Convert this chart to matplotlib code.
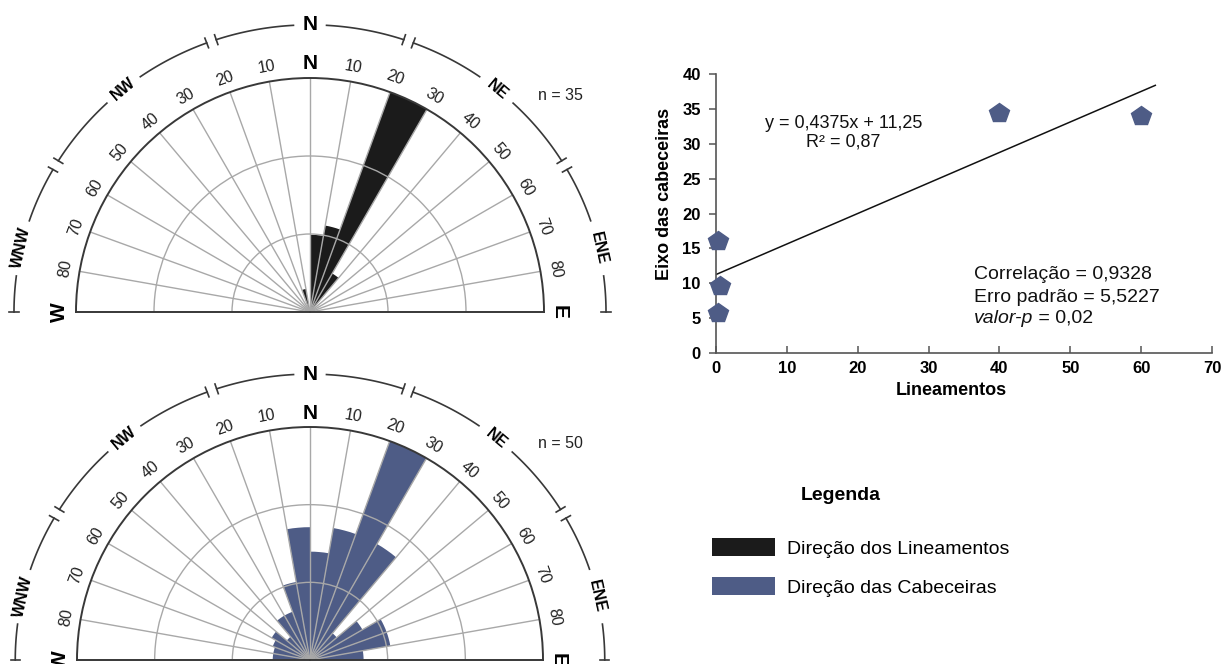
import numpy as np
import matplotlib
matplotlib.use("Agg")
import matplotlib.pyplot as plt
from matplotlib.patches import Patch

plt.rcParams['font.family'] = ['Liberation Sans', 'DejaVu Sans']

# ---------------------------------------------------------------------------
# Rose diagrams: relative frequency per 10-degree sector
# (sector centre azimuth in degrees, negative = west of north)
sector_centres = [-85, -75, -65, -55, -45, -35, -25, -15, -5,
                  5, 15, 25, 35, 45, 55, 65, 75, 85]
lineamentos_freq = [0, 0, 0, 0, 0, 0, 0, 0.10, 0,
                    0.33, 0.375, 1.0, 0.19, 0, 0, 0, 0, 0]
cabeceiras_freq = [0.16, 0.16, 0.17, 0.19, 0.13, 0.22, 0.22, 0.34, 0.57,
                   0.465, 0.575, 1.0, 0.575, 0.15, 0.26, 0.35, 0.35, 0.23]
n_lineamentos = 35
n_cabeceiras = 50

degree_ticks = [10, 20, 30, 40, 50, 60, 70, 80]
compass_labels = ['WNW', 'NW', 'N', 'NE', 'ENE']
compass_angles = [-77.5, -40, 0, 40, 77.5]
compass_breaks = [-60, -20, 20, 60]

# Scatter: lineaments vs. headwater axes
lineamentos = [0.3, 0.5, 0.3, 40, 60]
eixo_cabeceiras = [16.1, 9.6, 5.7, 34.4, 34.0]
slope, intercept = 0.4375, 11.25
r2 = 0.87
correlacao = 0.9328
erro_padrao = 5.5227
valor_p = 0.02
x_ticks = [0, 10, 20, 30, 40, 50, 60, 70]
y_ticks = [0, 5, 10, 15, 20, 25, 30, 35, 40]

legend_labels = ['Direção dos Lineamentos', 'Direção das Cabeceiras']

BLACK = '#1b1b1b'
BLUE = '#4e5c86'
GRID = '#a8a8a8'
DARK = '#383838'

W, H = 1222, 664
fig = plt.figure(figsize=(W / 100, H / 100), dpi=100)


def dec(v, nd):
    return f"{v:.{nd}f}".replace('.', ',')


# the outer compass band is slightly wider than it is tall
RING_H, RING_V = 1.265, 1.227


def ring_r(theta_deg, dr=0.0):
    t = np.deg2rad(theta_deg)
    return 1.0 / np.sqrt((np.sin(t) / (RING_H + dr)) ** 2 +
                         (np.cos(t) / (RING_V + dr)) ** 2)


def rose(cx, cy, rad, freqs, color, n):
    # a half-circle polar axes is laid out in a square box with the
    # semicircle centred vertically: baseline sits a quarter up the box
    rect = [(cx - rad) / W, (H - (cy + rad / 2)) / H, 2 * rad / W, 2 * rad / H]
    ax = fig.add_axes(rect, projection='polar')
    ax.set_theta_zero_location('N')
    ax.set_theta_direction(-1)
    ax.set_thetamin(-90)
    ax.set_thetamax(90)
    ax.bar(np.deg2rad(sector_centres), freqs, width=np.deg2rad(10),
           color=color, edgecolor='none', linewidth=0, zorder=1)
    ax.set_rlim(0, 1)
    ax.set_rticks([1 / 3, 2 / 3])
    ax.set_yticklabels([])
    ax.set_thetagrids(np.arange(-90, 91, 10), labels=[])
    ax.grid(True, color=GRID, lw=1.0)
    ax.tick_params(length=0)
    for s in ['polar', 'start', 'end']:
        ax.spines[s].set_color(DARK)
        ax.spines[s].set_linewidth(1.4)
    ax.spines['inner'].set_visible(False)

    # degree labels around the half circle
    for d in degree_ticks:
        for sgn in (-1, 1):
            a = sgn * d
            ax.text(np.deg2rad(a), 1.063, str(d), rotation=-a,
                    rotation_mode='anchor', ha='center', va='center',
                    fontsize=11.5, color='#222222', clip_on=False)
    ax.text(0, 1.06, 'N', ha='center', va='center', fontsize=15,
            fontweight='bold', clip_on=False)
    ax.text(np.deg2rad(-90), 1.07, 'W', rotation=90, rotation_mode='anchor',
            ha='center', va='center', fontsize=15, fontweight='bold',
            clip_on=False)
    ax.text(np.deg2rad(90), 1.065, 'E', rotation=-90, rotation_mode='anchor',
            ha='center', va='center', fontsize=15, fontweight='bold',
            clip_on=False)

    # outer compass band with label gaps and break marks
    gaps = {-77.5: 5.5, -40: 4.2, 0: 3.3, 40: 4.2, 77.5: 5.5}
    cuts = []
    for a in compass_angles:
        cuts.append((a - gaps[a], a + gaps[a], False))
    for b in compass_breaks:
        cuts.append((b - 1.0, b + 1.0, True))
    cuts.sort()
    start = -90
    segs = []
    for lo, hi, brk in cuts:
        segs.append((start, lo))
        if brk:
            for t in (lo, hi):
                ax.plot([np.deg2rad(t)] * 2,
                        [ring_r(t, -0.022), ring_r(t, 0.022)],
                        color=DARK, lw=1.2, clip_on=False)
        start = hi
    segs.append((start, 90))
    for lo, hi in segs:
        deg = np.linspace(lo, hi, 80)
        ax.plot(np.deg2rad(deg), ring_r(deg), color=DARK, lw=1.2,
                clip_on=False)
    for t in (-90, 90):
        ax.plot([np.deg2rad(t)] * 2, [ring_r(t, -0.02), ring_r(t, 0.02)],
                color=DARK, lw=1.2, clip_on=False)
    for lab, a in zip(compass_labels, compass_angles):
        fs = 15 if lab == 'N' else 11.5
        ax.text(np.deg2rad(a), ring_r(a), lab, rotation=-a,
                rotation_mode='anchor', ha='center', va='center',
                fontsize=fs, fontweight='bold', clip_on=False)
    ax.set_rlim(0, 1)
    fig.text((cx + 250) / W, 1 - (cy - 216) / H, f'n = {n}', ha='center',
             va='center', fontsize=11.5, color='#222222')
    return ax


rose(310, 312, 234, lineamentos_freq, BLACK, n_lineamentos)
rose(310, 660, 233, cabeceiras_freq, BLUE, n_cabeceiras)

# ---------------------------------------------------------------------------
# Scatter plot with linear fit
ax2 = fig.add_axes([716 / W, (H - 353) / H, 496 / W, 279 / H])
ax2.set_xlim(0, 70)
ax2.set_ylim(0, 40)
xf = np.array([0, 62])
ax2.plot(xf, slope * xf + intercept, color='#111111', lw=1.1, zorder=2)
ax2.plot(lineamentos, eixo_cabeceiras, linestyle='none', marker='p',
         markersize=15, color=BLUE, zorder=3, clip_on=False)
for s in ['top', 'right']:
    ax2.spines[s].set_visible(False)
for s in ['left', 'bottom']:
    ax2.spines[s].set_color('#555555')
    ax2.spines[s].set_linewidth(1.2)
ax2.set_xticks(x_ticks)
ax2.set_yticks(y_ticks)
ax2.tick_params(axis='x', direction='in', length=5, width=1.1,
                color='#555555', pad=6, labelsize=12)
ax2.tick_params(axis='y', direction='out', length=5, width=1.1,
                color='#555555', pad=6, labelsize=12)
for lab in ax2.get_xticklabels() + ax2.get_yticklabels():
    lab.set_fontweight('bold')
ax2.set_xlabel('Lineamentos', fontsize=13, fontweight='bold')
ax2.set_ylabel('Eixo das cabeceiras', fontsize=13, fontweight='bold')
ax2.xaxis.set_label_coords(0.474, -0.104)
ax2.yaxis.set_label_coords(-0.087, 0.57)

ax2.text(18.0, 31.55,
         f'y = {dec(slope, 4)}x + {dec(intercept, 2)}\nR² = {dec(r2, 2)}',
         ha='center', va='center', multialignment='center', fontsize=13,
         linespacing=1.15, color='#111111')
ax2.text(36.4, 11.2, f'Correlação = {dec(correlacao, 4)}', ha='left',
         va='center', fontsize=14, color='#111111')
ax2.text(36.4, 8.0, f'Erro padrão = {dec(erro_padrao, 4)}', ha='left',
         va='center', fontsize=14, color='#111111')
tp = ax2.text(36.4, 5.0, 'valor-p', ha='left', va='center', fontsize=14,
              style='italic', color='#111111')
ax2.annotate(f' = {dec(valor_p, 2)}', xy=(1, 0.5), xycoords=tp, ha='left',
             va='center', fontsize=14, color='#111111')

# ---------------------------------------------------------------------------
# Legend
fig.text(841 / W, 1 - 495 / H, 'Legenda', ha='center', va='center',
         fontsize=14, fontweight='bold')
handles = [Patch(facecolor=BLACK, edgecolor='none'),
           Patch(facecolor=BLUE, edgecolor='none')]
fig.legend(handles, legend_labels, loc='upper left',
           bbox_to_anchor=(712 / W, 1 - 538 / H), frameon=False,
           fontsize=14, handlelength=3.25, handleheight=1.05,
           handletextpad=0.62, labelspacing=1.0, borderpad=0,
           borderaxespad=0)

fig.savefig('out.png', dpi=100)
